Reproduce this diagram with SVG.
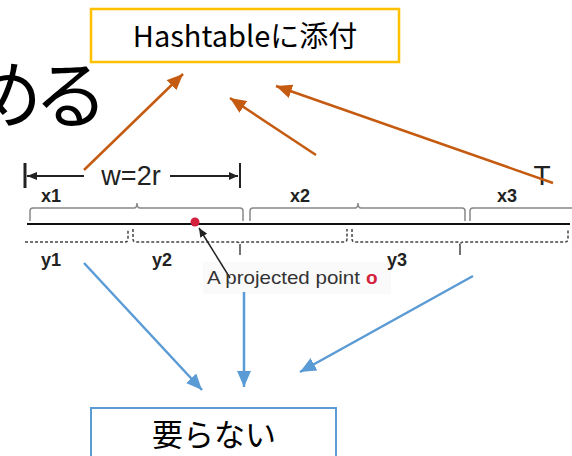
<svg xmlns="http://www.w3.org/2000/svg" width="572" height="456" viewBox="0 0 572 456">
<style>
.jp{font-family:"Noto Sans CJK JP","Noto Sans",sans-serif;fill:#000}
.lbl{font-family:"Liberation Sans",Arial,sans-serif;font-weight:bold;font-size:18px;fill:#222}
.brace{fill:none;stroke:#888;stroke-width:1.5}
.dash{fill:none;stroke:#444;stroke-width:1.5;stroke-dasharray:3 2}
.org{stroke:#C55A11;stroke-width:2.5;fill:none;marker-end:url(#ah-o)}
.blu{stroke:#5B9BD5;stroke-width:2.5;fill:none;marker-end:url(#ah-b)}
</style>
<defs>
<marker id="ah-o" markerUnits="userSpaceOnUse" markerWidth="18" markerHeight="14" refX="16" refY="7" orient="auto"><path d="M0,0 L16,7 L0,14 Z" fill="#C55A11"/></marker>
<marker id="ah-b" markerUnits="userSpaceOnUse" markerWidth="18" markerHeight="14" refX="16" refY="7" orient="auto"><path d="M0,0 L16,7 L0,14 Z" fill="#5B9BD5"/></marker>
<marker id="ah-k" markerUnits="userSpaceOnUse" markerWidth="10" markerHeight="8" refX="9" refY="4" orient="auto"><path d="M0,0 L9,4 L0,8 Z" fill="#222"/></marker>
</defs>
<rect width="572" height="456" fill="#fff"/>
<text class="jp" x="100" y="122" font-size="74" letter-spacing="-8" text-anchor="end">める</text>
<g id="hashtable">
<rect x="91" y="9" width="308" height="53" fill="#fff" stroke="#FFC000" stroke-width="2.5"/>
<text class="jp" x="245" y="47" font-size="29" text-anchor="middle">Hashtableに添付</text>
</g>
<g id="figure">
<rect x="203" y="262" width="188" height="32" fill="#fafafa"/>
<line x1="25" y1="163" x2="25" y2="188" stroke="#222" stroke-width="3"/>
<line x1="240" y1="163" x2="240" y2="188" stroke="#222" stroke-width="2"/>
<line x1="27" y1="176" x2="84" y2="176" stroke="#222" stroke-width="2"/>
<path d="M27,176 L37,172 L37,180 Z" fill="#222"/>
<line x1="170" y1="176" x2="238" y2="176" stroke="#222" stroke-width="2" marker-end="url(#ah-k)"/>
<text x="131" y="185" font-family="Liberation Sans,Arial,sans-serif" font-size="27" fill="#222" text-anchor="middle">w=2r</text>
<text class="lbl" x="41" y="202">x1</text>
<text class="lbl" x="290" y="202">x2</text>
<text class="lbl" x="497" y="202">x3</text>
<text class="lbl" x="41" y="266">y1</text>
<text class="lbl" x="152" y="266">y2</text>
<text class="lbl" x="387" y="266">y3</text>
<path class="brace" d="M30,221 L30,211 Q30,208 33,208 L134,208 Q137,208 137,203 Q137,208 140,208 L240,208 Q243,208 243,211 L243,221"/>
<path class="brace" d="M250,221 L250,211 Q250,208 253,208 L355,208 Q358,208 358,203 Q358,208 361,208 L462,208 Q465,208 465,211 L465,221"/>
<path class="brace" d="M470,221 L470,211 Q470,208 473,208 L572,208"/>
<line x1="27" y1="224" x2="570" y2="224" stroke="#111" stroke-width="2"/>
<path class="dash" d="M25,242 L125,242 Q128,242 128,239 L128,229"/>
<path class="dash" d="M133,229 L133,239 Q133,242 136,242 L237,242 Q240,242 240,246 Q240,242 243,242 L344,242 Q347,242 347,239 L347,229"/>
<path class="dash" d="M352,229 L352,239 Q352,242 355,242 L457,242 Q460,242 460,246 Q460,242 463,242 L565,242 Q568,242 568,239 L568,229"/>
<line x1="240" y1="246" x2="240" y2="255" stroke="#444" stroke-width="1.5"/>
<line x1="460" y1="246" x2="460" y2="255" stroke="#444" stroke-width="1.5"/>
<circle cx="195" cy="222" r="4.5" fill="#d4203c"/>
<line x1="230" y1="278" x2="199" y2="228" stroke="#222" stroke-width="1.5" marker-end="url(#ah-k)"/>
<text x="207" y="284" font-family="Liberation Sans,Arial,sans-serif" font-size="19" fill="#333"><tspan textLength="153" lengthAdjust="spacingAndGlyphs">A projected point</tspan><tspan x="366" fill="#d4203c" font-weight="bold">o</tspan></text>
<text x="542" y="185" font-family="Liberation Sans,Arial,sans-serif" font-size="28" fill="#222" text-anchor="middle">T</text>
</g>
<g id="connectors">
<line class="org" x1="84" y1="170" x2="183" y2="74"/>
<line class="org" x1="316" y1="155" x2="230" y2="98"/>
<line class="org" x1="553" y1="183" x2="276" y2="86"/>
<line class="blu" x1="84" y1="263" x2="202" y2="390"/>
<line class="blu" x1="244" y1="292" x2="244" y2="387"/>
<line class="blu" x1="473" y1="276" x2="300" y2="372"/>
</g>
<g id="youranai">
<rect x="91" y="408" width="245" height="60" fill="#fff" stroke="#5B9BD5" stroke-width="2"/>
<text class="jp" x="214" y="446" font-size="31" text-anchor="middle">要らない</text>
</g>
</svg>
